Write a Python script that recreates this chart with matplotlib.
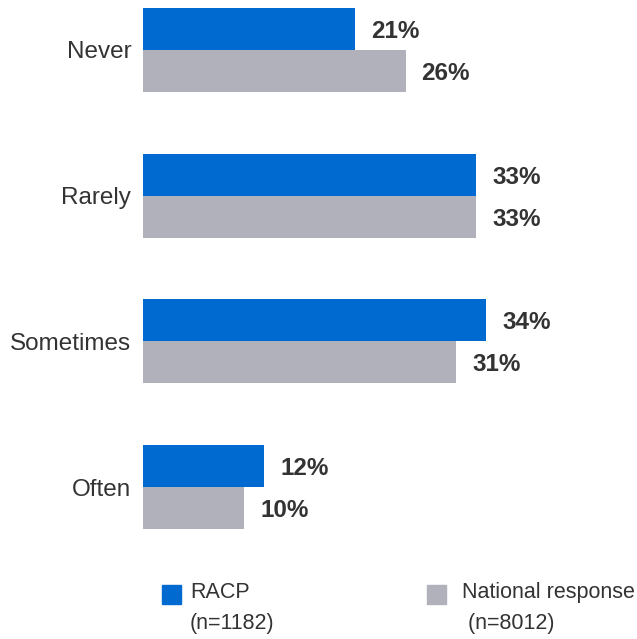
import matplotlib.pyplot as plt
from matplotlib.patches import Rectangle

plt.rcParams['font.family'] = ['Liberation Sans', 'DejaVu Sans']

categories = ['Never', 'Rarely', 'Sometimes', 'Often']
racp = [21, 33, 34, 12]
national = [26, 33, 31, 10]
legend_labels = ['RACP\n(n=1182)', 'National response\n (n=8012)']

blue = '#006AD0'
grey = '#B1B1BC'
text_col = '#333333'

W, H = 637, 639
fig = plt.figure(figsize=(W / 100, H / 100), dpi=100)

# axes spans from bar origin to right edge, top to just above legend
ax = fig.add_axes([143 / W, 1 - 540 / H, 494 / W, 540 / H])
px_per_unit = 10.1
ax.set_xlim(0, 494 / px_per_unit)
ax.set_ylim(3 + 53 / 146, -50 / 146)

h = 42 / 146
pos = list(range(len(categories)))
ax.barh([p - h / 2 for p in pos], racp, height=h, color=blue)
ax.barh([p + h / 2 for p in pos], national, height=h, color=grey)

off = 16 / px_per_unit
dy = 2.5 / 146
for p, a, b in zip(pos, racp, national):
    ax.text(a + off, p - h / 2 + dy, f'{a}%', va='center', ha='left',
            fontsize=17.5, fontweight='bold', color=text_col)
    ax.text(b + off, p + h / 2 + dy, f'{b}%', va='center', ha='left',
            fontsize=17.5, fontweight='bold', color=text_col)

ax.set_yticks(pos)
ax.set_yticklabels(categories, fontsize=17.5, color=text_col)
ax.tick_params(axis='y', length=0, pad=8.5)
ax.set_xticks([])
for s in ax.spines.values():
    s.set_visible(False)

# legend drawn by hand
sq = 19
for x_sq, x_txt, lab, col in [(162, 190, legend_labels[0], blue),
                              (427, 462, legend_labels[1], grey)]:
    fig.add_artist(Rectangle((x_sq / W, 1 - 604 / H), sq / W, sq / H,
                             transform=fig.transFigure, color=col))
    fig.text(x_txt / W, 1 - 582 / H, lab, ha='left', va='top',
             fontsize=15.5, color=text_col, linespacing=1.65)

fig.savefig('out.png', dpi=100)
